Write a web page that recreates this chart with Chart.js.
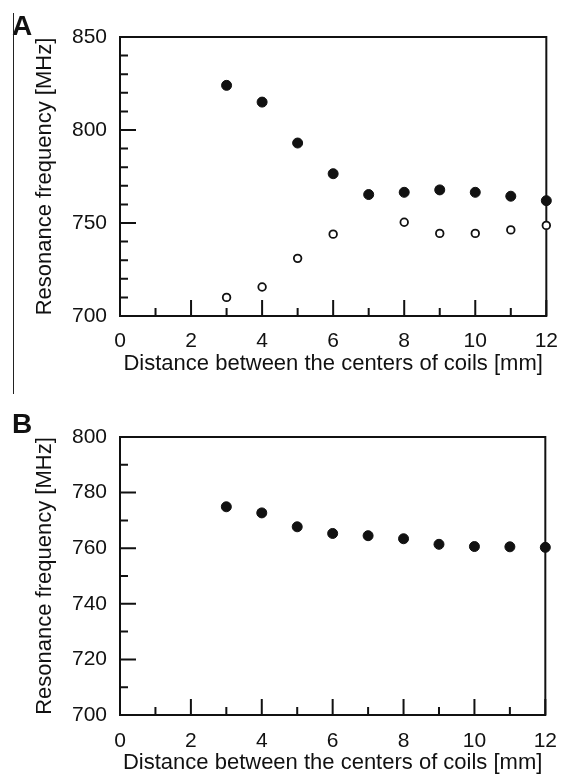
<!DOCTYPE html>
<html>
<head>
<meta charset="utf-8">
<script src="https://cdn.jsdelivr.net/npm/chart.js@4"></script>
<style>
  body { margin: 0; background: #fff; }
  #wrap { position: relative; width: 571px; height: 776px; }
  canvas { position: absolute; left: 0; }
  #panelA { top: 0; }
  #panelB { top: 385px; }
  #edge { position: absolute; left: 13px; top: 13px; width: 1px; height: 381px; background: #222; }
</style>
</head>
<body>
<div id="wrap">
  <canvas id="panelA" width="571" height="385"></canvas>
  <canvas id="panelB" width="571" height="391"></canvas>
  <div id="edge"></div>
</div>
<script>
// distance between coil centres [mm]
var distances = [3, 4, 5, 6, 7, 8, 9, 10, 11, 12];
var openDistances = [3, 4, 5, 6, 8, 9, 10, 11, 12];

// panel A: two resonance modes [MHz]
var aUpper = [824, 815, 793, 776.5, 765.3, 766.5, 767.8, 766.5, 764.4, 762];
var aLower = [710, 715.6, 731, 744, 750.4, 744.4, 744.4, 746.3, 748.7];

// panel B: single resonance [MHz]
var bValues = [774.9, 772.7, 767.7, 765.3, 764.5, 763.4, 761.4, 760.6, 760.5, 760.3];

var xTicks = [0, 2, 4, 6, 8, 10, 12];
var aYTicks = [700, 750, 800, 850];
var bYTicks = [700, 720, 740, 760, 780, 800];

var FONT = "'Liberation Sans', Arial, sans-serif";
var INK = "#111";

function pts(xs, ys) {
  return xs.map(function (x, i) { return { x: x, y: ys[i] }; });
}

// box + inward tick marks + panel letter
var frame = {
  id: 'frame',
  beforeDatasetsDraw: function (chart, args, opts) {
    var ctx = chart.ctx, a = chart.chartArea;
    var xs = chart.scales.x, ys = chart.scales.y;
    ctx.save();
    ctx.strokeStyle = INK;
    ctx.lineWidth = 2;
    ctx.strokeRect(a.left, a.top, a.right - a.left, a.bottom - a.top);
    ctx.beginPath();
    for (var v = xs.min; v <= xs.max; v += 1) {
      var px = xs.getPixelForValue(v);
      var len = v % 2 === 0 ? 16 : 8;
      ctx.moveTo(px, a.bottom);
      ctx.lineTo(px, a.bottom - len);
    }
    for (var w = ys.min; w <= ys.max; w += opts.minor) {
      var py = ys.getPixelForValue(w);
      var l2 = (w - ys.min) % opts.major === 0 ? 16 : 8;
      ctx.moveTo(a.left, py);
      ctx.lineTo(a.left + l2, py);
    }
    ctx.stroke();
    ctx.fillStyle = INK;
    ctx.font = "bold 28px " + FONT;
    ctx.textBaseline = 'alphabetic';
    ctx.fillText(opts.letter, 12, opts.letterY);
    ctx.restore();
  }
};

function makeChart(id, datasets, yTicks, o) {
  return new Chart(document.getElementById(id), {
    type: 'scatter',
    data: { datasets: datasets },
    options: {
      responsive: false,
      animation: false,
      layout: { padding: { left: 0, right: 15, top: o.top, bottom: 0 } },
      plugins: {
        legend: { display: false },
        tooltip: { enabled: false },
        frame: o.frame
      },
      scales: {
        x: {
          type: 'linear', min: 0, max: 12,
          grid: { display: false, drawTicks: false },
          border: { display: false },
          afterBuildTicks: function (s) { s.ticks = xTicks.map(function (v) { return { value: v }; }); },
          afterFit: function (s) { s.height = o.xHeight; },
          ticks: { color: INK, padding: o.xPad, maxRotation: 0, font: { family: FONT, size: 21 } },
          title: {
            display: true, text: 'Distance between the centers of coils [mm]', color: INK,
            font: { family: FONT, size: 22 }, padding: { top: 0, bottom: o.xTitlePad }
          }
        },
        y: {
          type: 'linear', min: yTicks[0], max: yTicks[yTicks.length - 1],
          grid: { display: false, drawTicks: false },
          border: { display: false },
          afterBuildTicks: function (s) { s.ticks = yTicks.map(function (v) { return { value: v }; }); },
          afterFit: function (s) { s.width = 120; },
          ticks: { color: INK, padding: 13, font: { family: FONT, size: 21 } },
          title: {
            display: true, text: 'Resonance frequency [MHz]', color: INK,
            font: { family: FONT, size: 22 }, padding: { top: 32, bottom: 0 }
          }
        }
      }
    },
    plugins: [frame]
  });
}

var filledStyle = { showLine: false, clip: false, pointRadius: 5, pointBorderWidth: 1, pointBackgroundColor: INK, pointBorderColor: INK };
var openStyle = { showLine: false, clip: false, pointRadius: 3.8, pointBorderWidth: 1.8, pointBackgroundColor: '#fff', pointBorderColor: INK };

makeChart('panelA', [
  Object.assign({ label: 'upper', data: pts(distances, aUpper) }, filledStyle),
  Object.assign({ label: 'lower', data: pts(openDistances, aLower) }, openStyle)
], aYTicks, { top: 37, xHeight: 69, xPad: 13, xTitlePad: 8, frame: { letter: 'A', letterY: 35, major: 50, minor: 10 } });

makeChart('panelB', [
  Object.assign({ label: 'single', data: pts(distances, bValues) }, filledStyle)
], bYTicks, { top: 52, xHeight: 61, xPad: 14, xTitlePad: 0, frame: { letter: 'B', letterY: 48, major: 20, minor: 10 } });
</script>
</body>
</html>
